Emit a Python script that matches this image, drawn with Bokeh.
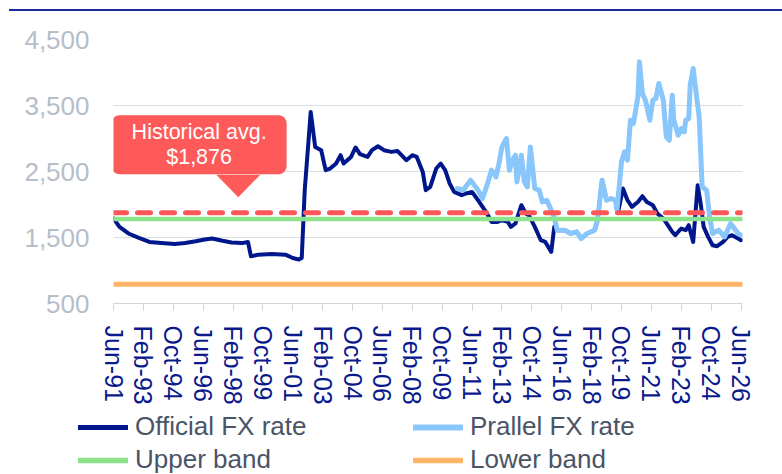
from bokeh.plotting import figure
from bokeh.models import (FixedTicker, NumeralTickFormatter, Legend, LegendItem,
                          Label, Div, Range1d)
from bokeh.layouts import column
from bokeh.embed import file_html
from bokeh.resources import INLINE

# ---------------- data ----------------
# x = months since Jun-1991
tick_months = list(range(0, 421, 20))
tick_labels = ["Jun-91", "Feb-93", "Oct-94", "Jun-96", "Feb-98", "Oct-99", "Jun-01",
               "Feb-03", "Oct-04", "Jun-06", "Feb-08", "Oct-09", "Jun-11", "Feb-13",
               "Oct-14", "Jun-16", "Feb-18", "Oct-19", "Jun-21", "Feb-23", "Oct-24",
               "Jun-26"]

official_months = [0, 4, 10, 17, 24, 32, 41, 48, 55, 61, 66, 73, 79, 86, 90, 92, 97, 106,
                   115, 120, 124, 126, 128, 132, 135, 139, 142, 145, 149, 152, 154, 159,
                   162, 165, 170, 173, 177, 181, 186, 190, 196, 200, 203, 207, 209, 212,
                   216, 219, 222, 225, 228, 233, 236, 240, 244, 247, 250, 253, 257, 260,
                   264, 266, 269, 273, 276, 278, 282, 286, 289, 293, 295, 297, 302, 306,
                   310, 313, 317, 322, 324, 327, 330, 333, 336, 338, 341, 344, 347, 351,
                   354, 357, 361, 364, 368, 371, 374, 376, 380, 383, 385, 388, 391, 393,
                   395, 398, 401, 404, 408, 411, 414, 418, 420]
official_values = [1790, 1661, 1561, 1494, 1433, 1418, 1400, 1418, 1444, 1470, 1485, 1450,
                   1425, 1415, 1433, 1215, 1240, 1250, 1240, 1190, 1165, 1190, 2217, 3403,
                   2873, 2823, 2520, 2545, 2621, 2747, 2621, 2721, 2864, 2762, 2721, 2823,
                   2883, 2823, 2797, 2812, 2671, 2747, 2721, 2494, 2217, 2267, 2545, 2621,
                   2520, 2318, 2191, 2141, 2167, 2191, 2065, 1964, 1864, 1736, 1736, 1762,
                   1736, 1661, 1712, 1989, 1864, 1838, 1661, 1459, 1433, 1282, 1661, 1611,
                   1611, 1561, 1585, 1485, 1561, 1611, 1762, 2368, 2065, 2091, 2065, 1914,
                   2242, 2065, 1964, 2039, 2126, 2039, 1989, 1864, 1788, 1686, 1585, 1535,
                   1636, 1611, 1686, 1433, 2292, 2015, 1661, 1509, 1383, 1368, 1433, 1509,
                   1535, 1485, 1459]

parallel_months = [230, 234, 239, 244, 247, 250, 253, 256, 258, 260, 263, 265, 267, 269,
                   270, 273, 275, 277, 279, 282, 285, 287, 290, 293, 295, 297, 302, 306,
                   310, 313, 317, 322, 324, 327, 330, 333, 336, 337, 340, 342, 344, 346,
                   348, 351, 352, 354, 356, 359, 361, 363, 365, 368, 370, 372, 374, 375,
                   378, 380, 382, 383, 385, 386, 388, 390, 392, 394, 397, 399, 401, 405,
                   409, 413, 418, 420]
parallel_values = [2242, 2217, 2368, 2217, 2091, 2292, 2520, 2418, 2621, 2873, 3000, 2520,
                   2671, 2747, 2342, 2747, 2342, 2267, 2873, 2242, 2217, 2039, 2065, 1914,
                   1812, 1611, 1611, 1561, 1585, 1485, 1561, 1611, 1762, 2368, 2065, 2091,
                   2065, 1914, 2646, 2797, 2671, 3277, 3227, 3631, 4161, 3682, 3580, 3277,
                   3580, 3606, 3833, 3580, 3025, 2974, 3656, 3277, 3050, 3151, 3101, 3277,
                   3303, 3808, 4060, 3682, 3328, 2267, 2217, 1812, 1561, 1611, 1509, 1712,
                   1561, 1535]

upper_band = 1780
lower_band = 790
historical_avg = 1876
band_months = [0, 420]

y_ticks = [500, 1500, 2500, 3500, 4500]

series_names = ["Official FX rate", "Upper band", "Prallel FX rate", "Lower band"]

# ---------------- styles ----------------
FONT = "Liberation Sans"
NAVY = "#00178C"
LIGHT = "#89C6FB"
GREEN = "#8DE38B"
ORANGE = "#FFB468"
RED = "#FF5757"

p = figure(width=782, height=399, x_range=Range1d(0, 421), y_range=Range1d(500, 4500),
           output_backend="svg", toolbar_location=None,
           min_border_left=113, min_border_right=40, min_border_top=28,
           min_border_bottom=107)
p.frame_align = False
p.outline_line_color = None
p.background_fill_color = "white"
p.xgrid.visible = False
p.ygrid.grid_line_color = "#D9DDE4"
p.ygrid.grid_line_width = 1
p.ygrid.ticker = FixedTicker(ticks=y_ticks)

# axes
p.yaxis.ticker = FixedTicker(ticks=y_ticks)
p.yaxis.formatter = NumeralTickFormatter(format="0,0")
p.yaxis.axis_line_color = None
p.yaxis.major_tick_line_color = None
p.yaxis.major_tick_out = 0
p.yaxis.major_tick_in = 0
p.yaxis.minor_tick_line_color = None
p.yaxis.major_label_standoff = 24
p.yaxis.major_label_text_font = FONT
p.yaxis.major_label_text_font_size = "26px"
p.yaxis.major_label_text_color = "#B5BEC9"

p.xaxis.ticker = FixedTicker(ticks=tick_months)
p.xaxis.major_label_overrides = {m: lab for m, lab in zip(tick_months, tick_labels)}
p.xaxis.major_label_orientation = "vertical"
p.xaxis.axis_line_color = "#D0D5DD"
p.xaxis.major_tick_line_color = "#D0D5DD"
p.xaxis.major_tick_out = 7
p.xaxis.major_tick_in = 0
p.xaxis.minor_tick_line_color = None
p.xaxis.major_label_standoff = 15
p.xaxis.major_label_text_font = FONT
p.xaxis.major_label_text_font_size = "25px"
p.xaxis.major_label_text_color = "#0A1A8C"

# lines
p.line(official_months, official_values, line_color=NAVY, line_width=4,
       line_join="round", line_cap="round")
p.line(parallel_months, parallel_values, line_color=LIGHT, line_width=5,
       line_join="round", line_cap="round")
p.line(band_months, [upper_band] * 2, line_color=GREEN, line_width=4.5,
       line_cap="round")
p.line(band_months, [lower_band] * 2, line_color=ORANGE, line_width=5,
       line_cap="round")
p.line(band_months, [historical_avg] * 2, line_color=RED, line_width=5,
       line_dash="13 11", line_cap="round")

# callout
box_center_month = 57.3
box_center_value = 2905
tip_month = 83.5
tip_half_width = 14.7
tip_top_value = 2450
tip_value = 2111
p.patch([tip_month - tip_half_width, tip_month + tip_half_width, tip_month],
        [tip_top_value, tip_top_value, tip_value], fill_color="#FF5A5A", line_color=None)
callout = Label(x=box_center_month, y=box_center_value,
                text="Historical avg.\n$" + f"{historical_avg:,}",
                text_align="center", text_baseline="middle",
                text_font=FONT, text_font_size="21.5px", text_color="white",
                background_fill_color="#FF5A5A", border_radius=8,
                padding=(20, 20, 5, 5), text_line_height=1.05)
p.add_layout(callout)

# ---------------- legend (separate strip) ----------------
lg = figure(width=782, height=64, x_range=Range1d(0, 1), y_range=Range1d(0, 1),
            output_backend="svg", toolbar_location=None,
            x_axis_location=None, y_axis_location=None,
            min_border_left=78, min_border_right=0, min_border_top=0, min_border_bottom=0)
lg.frame_align = False
lg.outline_line_color = None
lg.xgrid.visible = False
lg.ygrid.visible = False
dummy = [5, 6]
l_off = lg.line(dummy, dummy, line_color=NAVY, line_width=5, line_cap="round")
l_up = lg.line(dummy, dummy, line_color=GREEN, line_width=5.5, line_cap="round")
l_par = lg.line(dummy, dummy, line_color=LIGHT, line_width=6, line_cap="round")
l_lo = lg.line(dummy, dummy, line_color=ORANGE, line_width=5.5, line_cap="round")
legend = Legend(items=[LegendItem(label=n, renderers=[r])
                       for n, r in zip(series_names, [l_off, l_up, l_par, l_lo])],
                location="top_left", orientation="vertical", ncols=2,
                label_text_font=FONT, label_text_font_size="26px",
                label_text_color="#4A5466", glyph_width=50, glyph_height=20,
                label_standoff=7, label_width=278, label_height=33, spacing=0,
                padding=0, margin=0, border_line_color=None, background_fill_alpha=0)
lg.add_layout(legend, "center")

top_rule = Div(width=773, height=2, margin=(9, 0, 0, 9),
               styles={"background-color": "#1B2A9C"})
layout = column(top_rule, p, lg, spacing=0)

open("out.html", "w").write(file_html(layout, INLINE))
